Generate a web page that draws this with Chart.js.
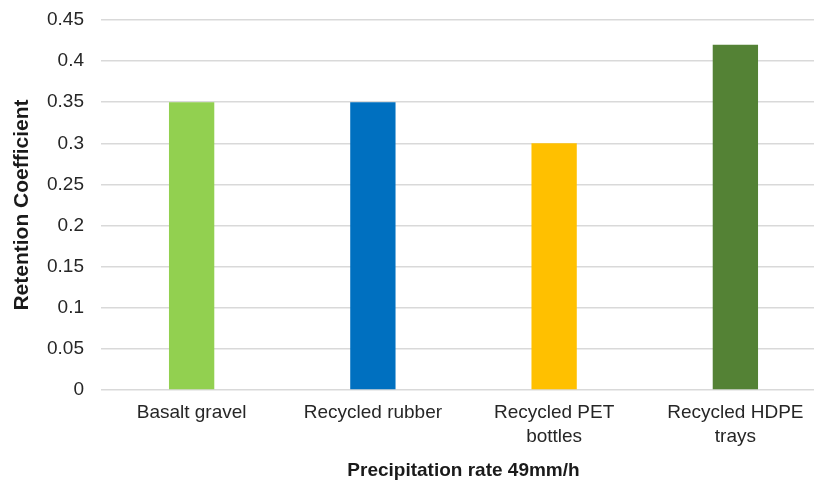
<!DOCTYPE html>
<html>
<head>
<meta charset="utf-8">
<script src="https://cdn.jsdelivr.net/npm/chart.js@4.4.1/dist/chart.umd.min.js"></script>
<style>
  html, body { margin: 0; padding: 0; background: #ffffff; overflow: hidden; }
  #wrap { position: relative; width: 830px; height: 483px; }
</style>
</head>
<body>
<div id="wrap"><canvas id="chart" width="830" height="483"></canvas></div>
<script>
// Retention coefficient of each drainage layer material at 49 mm/h
const materials = [
  ['Basalt gravel'],
  ['Recycled rubber'],
  ['Recycled PET', 'bottles'],
  ['Recycled HDPE', 'trays']
];
const retention = [0.35, 0.35, 0.30, 0.42];
const barColors = ['#92D050', '#0070C0', '#FFC000', '#548235'];
const yTicks = [0, 0.05, 0.1, 0.15, 0.2, 0.25, 0.3, 0.35, 0.4, 0.45];
const xTitle = 'Precipitation rate 49mm/h';
const yTitle = 'Retention Coefficient';

const FONT = "'Liberation Sans', Arial, sans-serif";

new Chart(document.getElementById('chart'), {
  type: 'bar',
  data: {
    labels: materials,
    datasets: [{
      data: retention,
      backgroundColor: barColors,
      borderWidth: 0,
      barPercentage: 0.25,
      categoryPercentage: 1.0
    }]
  },
  options: {
    responsive: false,
    animation: false,
    devicePixelRatio: 1,
    layout: { padding: { top: 20, right: 4, bottom: 0, left: 0 } },
    plugins: {
      legend: { display: false },
      tooltip: { enabled: false }
    },
    scales: {
      x: {
        grid: { display: false, drawTicks: false },
        border: { display: false },
        ticks: {
          color: '#262626',
          font: { family: FONT, size: 19, lineHeight: 1.25 },
          padding: 11,
          maxRotation: 0,
          autoSkip: false
        },
        title: {
          display: true,
          text: xTitle,
          color: '#1a1a1a',
          font: { family: FONT, size: 19, weight: 'bold', lineHeight: 1.2 },
          padding: { top: 0, bottom: 1 }
        },
        afterFit: (s) => { s.height = 93; }
      },
      y: {
        min: 0,
        max: 0.45,
        afterBuildTicks: (s) => { s.ticks = yTicks.map(v => ({ value: v })); },
        grid: { color: '#d9d9d9', lineWidth: 1.5, drawTicks: false },
        border: { display: false },
        ticks: {
          color: '#262626',
          font: { family: FONT, size: 19 },
          padding: 17,
          callback: (v) => String(Number(v.toFixed(2)))
        },
        title: {
          display: true,
          text: yTitle,
          color: '#1a1a1a',
          font: { family: FONT, size: 21, weight: 'bold', lineHeight: 1.2 },
          padding: { top: 10, bottom: 0 }
        },
        afterFit: (s) => {
          s.width = 101;
          s.paddingTop = 0;
          s.paddingBottom = 0;
        }
      }
    }
  }
});
</script>
</body>
</html>
